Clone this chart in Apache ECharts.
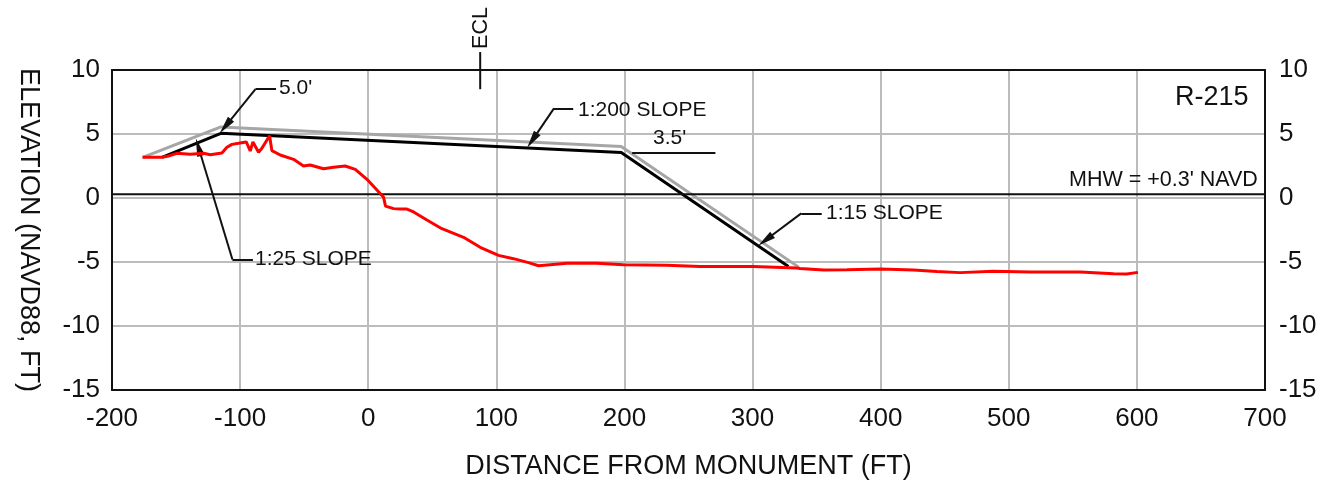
<!DOCTYPE html>
<html><head><meta charset="utf-8">
<style>html,body{margin:0;padding:0;background:#fff}#c{width:1322px;height:480px}</style>
<script src="https://cdn.jsdelivr.net/npm/echarts@6/dist/echarts.min.js"></script>
</head><body><div id="c"></div>
<script>
const xTicks=[-200,700], yRange=[-15,10];
const surveyX=[-176.2,-161,-155.9,-149.4,-139,-128.5,-123.3,-114.2,-110.3,-106.4,-101.2,-95.2,-92.1,-90,-85.6,-83,-77,-75.2,-68.7,-58.3,-50.5,-45.3,-34.9,-27.1,-18,-10.1,-1,6.8,12,13.5,19.8,25,30.2,35.4,45.8,57.5,74.4,87.4,101.7,113.4,125.1,132.9,142,155,178.5,199.3,233,259,300.5,334.6,337,355.5,373.7,399.7,425.7,444,462,488,516.8,555.8,581.8,592,600.8];
const surveyY=[3.18,3.18,3.28,3.49,3.41,3.49,3.38,3.52,3.96,4.19,4.27,4.38,3.67,4.38,3.57,3.88,4.87,3.7,3.36,3.02,2.5,2.58,2.29,2.4,2.5,2.24,1.46,0.63,0.05,-0.63,-0.83,-0.86,-0.86,-1.09,-1.72,-2.4,-3.07,-3.85,-4.48,-4.74,-5.05,-5.29,-5.21,-5.1,-5.1,-5.21,-5.26,-5.36,-5.36,-5.47,-5.5,-5.63,-5.6,-5.55,-5.63,-5.75,-5.83,-5.73,-5.78,-5.78,-5.91,-5.94,-5.81];
const templateX=[-161,-115,197.5,328], templateY=[3.18,5.05,3.55,-5.35];
const constructX=[-176,-115,197.5,336], constructY=[3.18,5.55,4.03,-5.4];
const mhwX=[-200,700], mhwY=[0.3,0.3];
const eclX=[87.4,87.4], eclY=[11.4,8.5];
const labelsText=["5.0'","1:25 SLOPE","1:200 SLOPE","1:15 SLOPE","3.5'","MHW = +0.3' NAVD","R-215","ECL"];
// leaders: [x,y] in data units: tail, elbow, arrow centre
const leaders=[
 [[-72,8.5],[-88,8.5],[-111.5,5.6]],
 [[-90,-4.8],[-106,-4.8],[-132.5,3.97]],
 [[160,7],[145,7],[128,4.5]],
 [[354,-1.2],[338,-1.2],[310,-3.3]]
];
const plainLines=[
 [[206,3.5],[271,3.5]]
];
const leaderData=[];
leaders.forEach(l=>{
 leaderData.push([{coord:l[0],symbol:'none'},{coord:l[1],symbol:'none'}]);
 leaderData.push([{coord:l[1],symbol:'none'},{coord:l[2],symbol:'triangle',symbolSize:[8,18]}]);
});
plainLines.forEach(l=>leaderData.push([{coord:l[0],symbol:'none'},{coord:l[1],symbol:'none'}]));
const zip=(a,b)=>a.map((v,i)=>[v,b[i]]);
const F='"Liberation Sans",Arial,sans-serif';
const INK='#111';
const line=(name,x,y,color,w,extra)=>Object.assign({name,type:'line',data:zip(x,y),showSymbol:false,symbol:'none',
  lineStyle:{color,width:w},animation:false,silent:true},extra||{});
const txt=(t,x,y,size,extra)=>({type:'text',x,y,silent:true,z:50,style:Object.assign({text:t,font:size+'px '+F,fill:INK,textVerticalAlign:'middle'},extra||{})});
const chart=echarts.init(document.getElementById('c'),null,{renderer:'canvas'});
const yAx=(pos,name)=>({type:'value',position:pos,min:yRange[0],max:yRange[1],interval:5,
  name,nameLocation:'middle',nameRotate:-90,nameGap:70,nameTextStyle:{fontFamily:F,fontSize:27,color:INK},
  axisLine:{show:true,onZero:false,lineStyle:{color:'#111',width:2}},axisTick:{show:false},
  axisLabel:{fontFamily:F,fontSize:26,color:INK,margin:pos==='left'?12:14,showMinLabel:true,showMaxLabel:true},
  splitLine:{show:pos==='left',lineStyle:{color:'#bcbcbc',width:2}}});
chart.setOption({
 animation:false,backgroundColor:'#fff',
 grid:{left:112,right:57,top:70,height:320,outerBoundsMode:'none',containLabel:false},
 xAxis:[{type:'value',min:xTicks[0],max:xTicks[1],interval:100,
  name:'DISTANCE FROM MONUMENT (FT)',nameLocation:'middle',nameGap:63,nameTextStyle:{fontFamily:F,fontSize:27,color:INK},
  axisLine:{show:true,onZero:false,lineStyle:{color:'#111',width:2}},axisTick:{show:false},
  axisLabel:{fontFamily:F,fontSize:26,color:INK,margin:16,showMinLabel:true,showMaxLabel:true},
  splitLine:{show:true,lineStyle:{color:'#bcbcbc',width:2}}},
  {type:'value',position:'top',min:xTicks[0],max:xTicks[1],interval:100,axisLine:{show:true,onZero:false,lineStyle:{color:'#111',width:2}},axisTick:{show:false},axisLabel:{show:false},splitLine:{show:false}}],
 yAxis:[yAx('left','ELEVATION (NAVD88, FT)'),yAx('right','')],
 series:[
  line('Construction',constructX,constructY,'#a6a6a6',3,{z:3}),
  line('Template',templateX,templateY,'#000',3,{z:4}),
  line('MHW',mhwX,mhwY,'#111',2,{z:4}),
  line('Survey',surveyX,surveyY,'#ff0000',3,{z:5}),
  line('ECL',eclX,eclY,'#111',2,{z:6,clip:false}),
  {type:'line',name:'Leaders',data:[],clip:false,silent:true,z:6,
   markLine:{silent:true,animation:false,precision:4,symbol:'none',label:{show:false},emphasis:{disabled:true},
    lineStyle:{color:'#111',width:2,type:'solid'},data:leaderData}}
 ],
 graphic:[
  txt(labelsText[0],279,88,21),
  txt(labelsText[1],255,259,21),
  txt(labelsText[2],578,110,21),
  txt(labelsText[3],826,213,21),
  txt(labelsText[4],653,138,21),
  txt(labelsText[5],1069,180,21.5),
  txt(labelsText[6],1175,98,27),
  {type:'text',x:481,y:28,rotation:Math.PI/2,silent:true,z:50,style:{text:labelsText[7],font:'21.5px '+F,fill:INK,textAlign:'center',textVerticalAlign:'middle'}}
 ]
});
</script></body></html>
